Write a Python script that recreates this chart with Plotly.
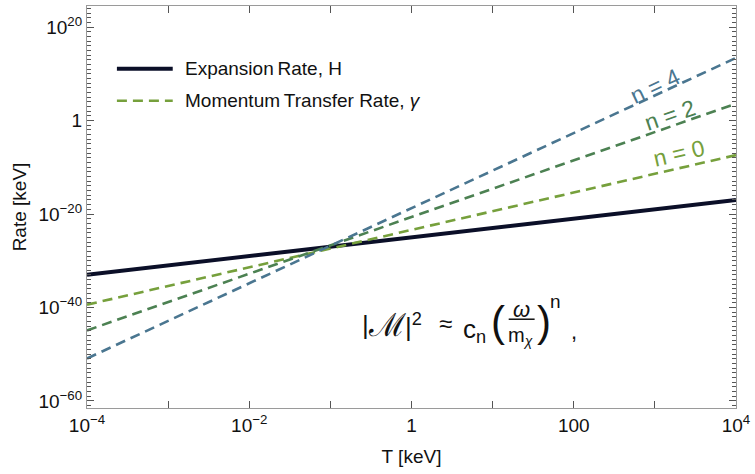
import plotly.graph_objects as go

# ---- data ----
T_keV = [1e-4, 1e4]
rate_H = [1e-33, 1e-17]            # Expansion rate H ~ T^2
rate_n0 = [10**-39.4, 10**-7.4]    # momentum transfer, n = 0
rate_n2 = [10**-44.9, 10**3.6]     # n = 2
rate_n4 = [10**-50.9, 10**13.4]    # n = 4

x_tickvals = [1e-4, 1e-2, 1, 100, 1e4]
x_ticktext = ["10<sup>\u22124</sup>", "10<sup>\u22122</sup>", "1", "100", "10<sup>4</sup>"]
x_minorvals = [1e-3, 1e-1, 10, 1e3]
y_tickvals = [1e20, 1, 1e-20, 1e-40, 1e-60]
y_ticktext = ["10<sup>20</sup>", "1", "10<sup>\u221220</sup>", "10<sup>\u221240</sup>", "10<sup>\u221260</sup>"]
y_minorvals = [10.0 ** k for k in range(-61, 25) if k % 20 != 0]
x_allvals = x_tickvals + x_minorvals

C_H = "#0b0f28"
C_N0 = "#76a03c"
C_N2 = "#4c8152"
C_N4 = "#4a7690"
TICK = "#555555"
FRAME = "#9a9a9a"

FONT = "Liberation Sans, Arial, sans-serif"

# plot-area pixel geometry (for placing text annotations)
L, R, TOP, BOT = 87, 738, 5, 408
W, H = 755, 474


def px(x, y):
    return (x - L) / (R - L), (BOT - y) / (BOT - TOP)


DASH = "10px,6px"

fig = go.Figure()
fig.add_trace(go.Scatter(x=T_keV, y=rate_H, mode="lines", name="Expansion Rate, H",
                         line=dict(color=C_H, width=4)))
fig.add_trace(go.Scatter(x=T_keV, y=rate_n0, mode="lines", name="Momentum Transfer Rate, \u03b3",
                         line=dict(color=C_N0, width=2.6, dash=DASH)))
fig.add_trace(go.Scatter(x=T_keV, y=rate_n2, mode="lines", name="n = 2",
                         line=dict(color=C_N2, width=2.6, dash=DASH)))
fig.add_trace(go.Scatter(x=T_keV, y=rate_n4, mode="lines", name="n = 4",
                         line=dict(color=C_N4, width=2.6, dash=DASH)))
# invisible trace carrying the mirrored (top/right) tick axes
fig.add_trace(go.Scatter(x=T_keV, y=rate_H, mode="lines", xaxis="x2", yaxis="y2",
                         line=dict(width=0), opacity=0, hoverinfo="skip", showlegend=False))

annots = []
shapes = []


def add_text(text, x, y, size, color="#111111", angle=0, xanchor="center", yanchor="middle"):
    ax, ay = px(x, y)
    annots.append(dict(text=text, x=ax, y=ay, xref="paper", yref="paper", showarrow=False,
                       xanchor=xanchor, yanchor=yanchor, textangle=angle,
                       font=dict(family=FONT, size=size, color=color)))


def add_seg(x0, x1, y, color, width, dash=None):
    a0, b0 = px(x0, y)
    a1, _ = px(x1, y)
    line = dict(color=color, width=width)
    if dash:
        line["dash"] = dash
    shapes.append(dict(type="line", xref="paper", yref="paper", x0=a0, x1=a1, y0=b0, y1=b0, line=line))


# legend (drawn by hand to match the long sample lines)
add_seg(117, 173, 68, C_H, 4)
add_text("Expansion\u2009Rate, H", 183, 68, 19, xanchor="left")
add_seg(117, 173, 100, C_N0, 2.6, DASH)
add_text("Momentum\u2009Transfer Rate, <i>\u03b3</i>", 183, 100, 19, xanchor="left")

# line labels
add_text("n = 4", 657, 85, 23, C_N4, angle=-25)
add_text("n = 2", 672, 114, 23, C_N2, angle=-19)
add_text("n = 0", 681, 152, 23, C_N0, angle=-13)

# formula |M|^2 ≈ c_n (ω/m_χ)^n ,
add_text("|", 361, 325, 26, xanchor="left")
add_text("\u2133", 367, 325, 32, xanchor="left")
add_text("|<sup>2</sup>", 404, 325, 26, xanchor="left")
add_text("\u2248", 447, 323, 24)
add_text("c<sub>n</sub>", 462, 330, 26, xanchor="left")
add_text("(", 499, 321, 42)
add_text("<i>\u03c9</i>", 523, 309, 22)
add_text("m<sub><i>\u03c7</i></sub>", 522, 336, 20)
add_text(")", 545, 321, 42)
add_text("n", 557, 301, 19)
add_text(",", 575, 331, 22)
add_seg(510, 536, 319, "#111111", 1.5)

axis_common = dict(type="log", showgrid=False, zeroline=False, tickcolor=TICK, tickwidth=1)

fig.update_layout(
    width=W, height=H,
    margin=dict(l=L, r=W - R, t=TOP, b=H - BOT),
    paper_bgcolor="white", plot_bgcolor="white",
    font=dict(family=FONT, size=19, color="#111111"),
    showlegend=False,
    annotations=annots,
    shapes=shapes,
    xaxis=dict(**axis_common, range=[-4, 4], tickvals=x_tickvals, ticktext=x_ticktext,
               ticks="inside", ticklen=7,
               minor=dict(tickvals=x_minorvals, ticks="inside", ticklen=7, tickcolor=TICK),
               showline=True, linecolor=FRAME, linewidth=1.2, mirror=True,
               title=dict(text="T [keV]", font=dict(size=19), standoff=14),
               tickfont=dict(size=19)),
    xaxis2=dict(**axis_common, range=[-4, 4], overlaying="x", side="top", matches="x",
                tickvals=x_allvals, ticks="inside", ticklen=7, showticklabels=False,
                showline=False),
    yaxis=dict(**axis_common, range=[-61.5, 24.5], tickvals=y_tickvals, ticktext=y_ticktext,
               ticks="inside", ticklen=7,
               minor=dict(tickvals=y_minorvals, ticks="inside", ticklen=4, tickcolor=TICK),
               showline=True, linecolor=FRAME, linewidth=1.2, mirror=True,
               title=dict(text="Rate [keV]", font=dict(size=19), standoff=6),
               tickfont=dict(size=19)),
    yaxis2=dict(**axis_common, range=[-61.5, 24.5], overlaying="y", side="right", matches="y",
                tickvals=y_tickvals, ticks="inside", ticklen=7, showticklabels=False,
                minor=dict(tickvals=y_minorvals, ticks="inside", ticklen=4, tickcolor=TICK),
                showline=False),
)

fig.write_html("out.html")
